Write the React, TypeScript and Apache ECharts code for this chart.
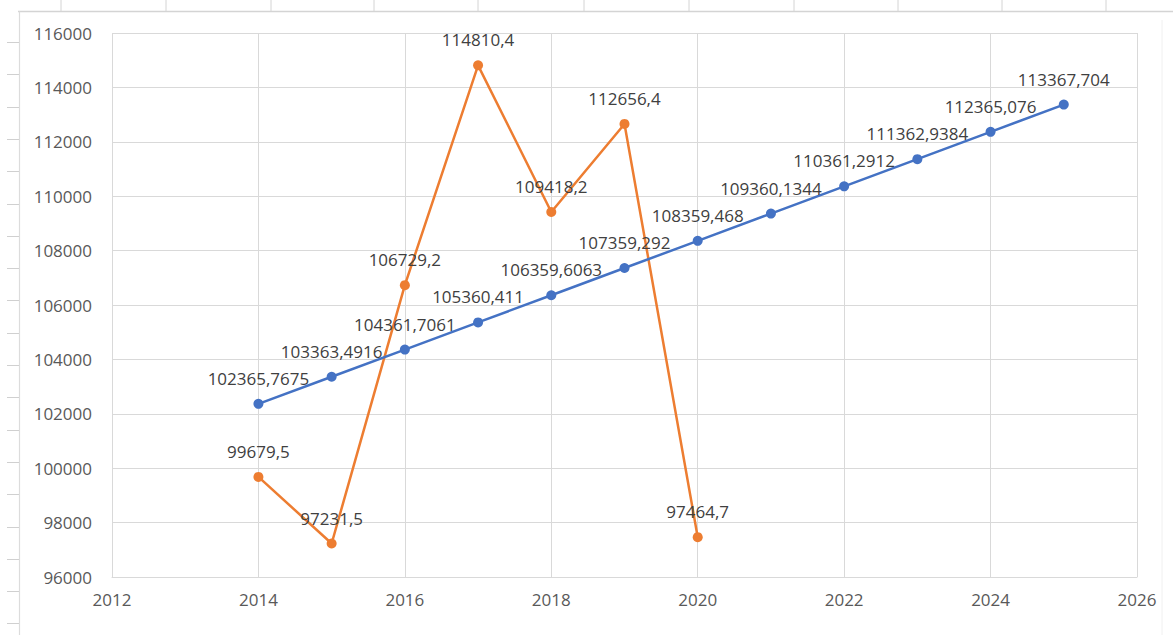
import React, { useEffect, useRef } from "react";
import * as echarts from "echarts";

const years = [2014, 2015, 2016, 2017, 2018, 2019, 2020, 2021, 2022, 2023, 2024, 2025];
const trendValues = [
  102365.7675, 103363.4916, 104361.7061, 105360.411, 106359.6063, 107359.292,
  108359.468, 109360.1344, 110361.2912, 111362.9384, 112365.076, 113367.704,
];
const actualYears = [2014, 2015, 2016, 2017, 2018, 2019, 2020];
const actualValues = [99679.5, 97231.5, 106729.2, 114810.4, 109418.2, 112656.4, 97464.7];

const xMin = 2012;
const xMax = 2026;
const xStep = 2;
const yMin = 96000;
const yMax = 116000;
const yStep = 2000;

const rulerTopTicks = [61, 166, 271, 374, 478, 584, 689, 794, 898, 1002, 1106];

export default function App() {
  const ref = useRef<HTMLDivElement>(null);

  useEffect(() => {
    if (!ref.current) return;
    const chart = echarts.init(ref.current, null, { renderer: "svg" });
    const font = "'Open Sans', sans-serif";
    const fmt = (p: any) => String(p.value[1]).replace(".", ",");

    const graphics: any[] = [];
    graphics.push({
      type: "line",
      shape: { x1: 18, y1: 11.5, x2: 1173, y2: 11.5 },
      style: { stroke: "#d4d4d4", lineWidth: 1.5 },
      silent: true,
    });
    graphics.push({
      type: "line",
      shape: { x1: 19.5, y1: 11.5, x2: 19.5, y2: 635 },
      style: { stroke: "#dcdcdc", lineWidth: 1.2 },
      silent: true,
    });
    graphics.push({
      type: "line",
      shape: { x1: 1162, y1: 20, x2: 1162, y2: 635 },
      style: { stroke: "#f0f0f0", lineWidth: 1 },
      silent: true,
    });
    rulerTopTicks.forEach((x) => {
      graphics.push({
        type: "line",
        shape: { x1: x, y1: 0, x2: x, y2: 11 },
        style: { stroke: "#d4d4d4", lineWidth: 1 },
        silent: true,
      });
    });
    for (let y = 42; y < 635; y += 32.3) {
      graphics.push({
        type: "line",
        shape: { x1: 7, y1: Math.round(y) + 0.5, x2: 19, y2: Math.round(y) + 0.5 },
        style: { stroke: "#d0d0d0", lineWidth: 1 },
        silent: true,
      });
    }

    chart.setOption({
      animation: false,
      backgroundColor: "#ffffff",
      graphic: graphics,
      grid: { left: 112, right: 36, top: 33, bottom: 58, containLabel: false },
      xAxis: {
        type: "value",
        min: xMin,
        max: xMax,
        interval: xStep,
        axisLine: { show: true, lineStyle: { color: "#d9d9d9", width: 1 } },
        axisTick: { show: false },
        axisLabel: {
          color: "#595959",
          fontFamily: font,
          fontSize: 17,
          margin: 14,
          formatter: (v: number) => String(v),
        },
        splitLine: { show: true, lineStyle: { color: "#d9d9d9", width: 1 } },
      },
      yAxis: {
        type: "value",
        min: yMin,
        max: yMax,
        interval: yStep,
        axisLine: { show: false },
        axisTick: { show: false },
        axisLabel: {
          color: "#595959",
          fontFamily: font,
          fontSize: 17,
          margin: 20,
          formatter: (v: number) => String(v),
        },
        splitLine: { show: true, lineStyle: { color: "#d9d9d9", width: 1 } },
      },
      series: [
        {
          name: "trend",
          type: "line",
          data: years.map((y, i) => [y, trendValues[i]]),
          symbol: "circle",
          symbolSize: 10,
          itemStyle: { color: "#4472C4" },
          lineStyle: { color: "#4472C4", width: 2.5 },
          label: {
            show: true,
            position: "top",
            distance: 12,
            color: "#404040",
            fontFamily: font,
            fontSize: 17,
            formatter: fmt,
          },
          z: 3,
        },
        {
          name: "actual",
          type: "line",
          data: actualYears.map((y, i) => [y, actualValues[i]]),
          symbol: "circle",
          symbolSize: 10,
          itemStyle: { color: "#ED7D31" },
          lineStyle: { color: "#ED7D31", width: 2.5 },
          label: {
            show: true,
            position: "top",
            distance: 12,
            color: "#404040",
            fontFamily: font,
            fontSize: 17,
            formatter: fmt,
          },
          z: 2,
        },
      ],
    });
    return () => chart.dispose();
  }, []);

  return (
    <div
      ref={ref}
      style={{ position: "fixed", left: 0, top: 0, width: 1173, height: 635 }}
    />
  );
}
